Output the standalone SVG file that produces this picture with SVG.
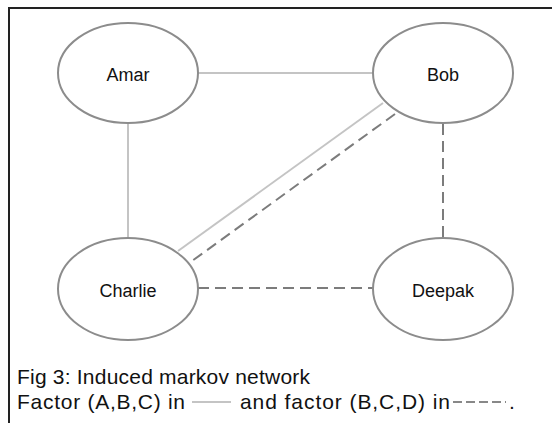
<svg xmlns="http://www.w3.org/2000/svg" width="552" height="423" viewBox="0 0 552 423">
<style>
.node ellipse{fill:#fff;stroke:#8c8c8c;stroke-width:2}
.lbl{font-family:"Liberation Sans",Arial,sans-serif;font-size:18px;fill:#111;text-anchor:middle}
.cap{font-family:"Liberation Sans",Arial,sans-serif;font-size:21px;fill:#111}
.solid{stroke:#c4c4c4;stroke-width:2;fill:none}
.dash{stroke:#7c7c7c;stroke-width:2;fill:none;stroke-dasharray:11 6}
</style>
<rect width="552" height="423" fill="#fff"/>
<path d="M9 423 V8 H552" fill="none" stroke="#222" stroke-width="2"/>
<g id="connectors">
<line class="solid" x1="198" y1="73" x2="373" y2="73"/>
<line class="solid" x1="128" y1="123" x2="128" y2="238"/>
<line class="solid" x1="383" y1="103" x2="178" y2="251"/>
<line class="dash" x1="395" y1="114" x2="192" y2="261"/>
<line class="dash" x1="443" y1="124" x2="443" y2="238"/>
<line class="dash" x1="198" y1="288" x2="373" y2="288"/>
</g>
<g id="amar" class="node"><ellipse cx="128" cy="73" rx="70" ry="50"/><text class="lbl" x="128" y="81">Amar</text></g>
<g id="bob" class="node"><ellipse cx="443" cy="73" rx="70" ry="50"/><text class="lbl" x="443" y="81">Bob</text></g>
<g id="charlie" class="node"><ellipse cx="128" cy="289" rx="70" ry="51"/><text class="lbl" x="128" y="297">Charlie</text></g>
<g id="deepak" class="node"><ellipse cx="443" cy="289" rx="70" ry="51"/><text class="lbl" x="443" y="297">Deepak</text></g>
<g id="caption">
<text class="cap" x="17" y="384" textLength="293" lengthAdjust="spacing">Fig 3: Induced markov network</text>
<text class="cap" x="17" y="409" textLength="168" lengthAdjust="spacing">Factor (A,B,C) in</text>
<line class="solid" x1="192" y1="402" x2="231" y2="402"/>
<text class="cap" x="240" y="409" textLength="210" lengthAdjust="spacing">and factor (B,C,D) in</text>
<line class="dash" x1="453" y1="402" x2="506" y2="402" style="stroke-dasharray:9 4;stroke:#888"/>
<text class="cap" x="509" y="409">.</text>
</g>
</svg>
